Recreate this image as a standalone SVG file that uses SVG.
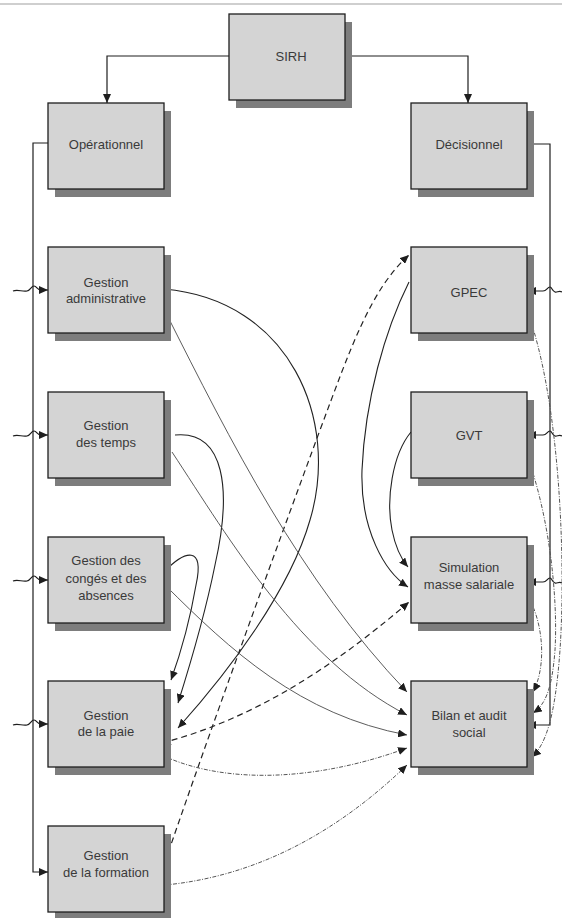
<svg xmlns="http://www.w3.org/2000/svg" width="562" height="918" viewBox="0 0 562 918">
<style>
.shadow{fill:#7d7d7d}
.box{fill:#d4d4d4;stroke:#1e1e1e;stroke-width:1.3}
.lbl{font-family:"Liberation Sans",Arial,sans-serif;font-size:13px;fill:#3a3a3a;text-anchor:middle}
.c{fill:none;stroke:#1e1e1e;stroke-width:1.2}
.s{fill:none;stroke:#222;stroke-width:1.1}
.g{fill:none;stroke:#4a4a4a;stroke-width:0.9}
.d{fill:none;stroke:#222;stroke-width:1.2;stroke-dasharray:6 4}
.dd{fill:none;stroke:#555;stroke-width:1;stroke-dasharray:4 1.5 1 1.5}
</style>
<defs>
<marker id="a" markerUnits="userSpaceOnUse" markerWidth="10" markerHeight="8" refX="9" refY="4" orient="auto-start-reverse">
<path d="M0,0 L9,4 L0,8 Z" fill="#1e1e1e"/>
</marker>
</defs>
<rect x="0" y="0" width="562" height="918" fill="#ffffff"/>
<line x1="0" y1="4" x2="562" y2="4" stroke="#cfcfcf" stroke-width="2"/>

<g id="connectors">
<path class="c" d="M229,56 L107,56 L107,103" marker-end="url(#a)"/>
<path class="c" d="M345,56 L468,56 L468,103" marker-end="url(#a)"/>
<path class="c" d="M48,143 L33,143 L33,872 L48,872" marker-end="url(#a)"/>
<path class="c" d="M527,144 L550,144 L550,725 L527,725" marker-end="url(#a)"/>
<path class="c" d="M13,291 C18,289 22,292 27,291 C31,290 31,286 34,286 C37,286 37,290 41,290 L48,290" marker-end="url(#a)"/>
<path class="c" d="M13,436 C18,434 22,437 27,436 C31,435 31,431 34,431 C37,431 37,435 41,435 L48,435" marker-end="url(#a)"/>
<path class="c" d="M13,581 C18,579 22,582 27,581 C31,580 31,576 34,576 C37,576 37,580 41,580 L48,580" marker-end="url(#a)"/>
<path class="c" d="M13,725 C18,723 22,726 27,725 C31,724 31,720 34,720 C37,720 37,724 41,724 L48,724" marker-end="url(#a)"/>
<path class="c" d="M562,292 C559,290 557,293 555,292 C552,291 552,287 550,287 C547,287 547,291 543,291 L527,291" marker-end="url(#a)"/>
<path class="c" d="M562,436 C559,434 557,437 555,436 C552,435 552,431 550,431 C547,431 547,435 543,435 L527,435" marker-end="url(#a)"/>
<path class="c" d="M562,583 C559,581 557,584 555,583 C552,582 552,578 550,578 C547,578 547,582 543,582 L527,582" marker-end="url(#a)"/>

<path class="s" d="M164,289 C290,300 340,420 310,520 C290,590 230,670 178,728" marker-end="url(#a)"/>
<path class="s" d="M175,435 C225,430 232,490 215,565 C205,615 190,665 178,703" marker-end="url(#a)"/>
<path class="s" d="M164,572 C185,550 205,545 196,585 C190,620 180,655 171,680" marker-end="url(#a)"/>
<path class="s" d="M409,282 C385,330 365,400 362,470 C360,530 385,572 408,587" marker-end="url(#a)"/>
<path class="s" d="M411,432 C392,455 386,500 392,530 C396,550 402,560 408,567" marker-end="url(#a)"/>

<path class="d" d="M165,862 C200,760 250,620 320,430 C350,350 370,290 409,255" marker-start="url(#a)" marker-end="url(#a)"/>
<path class="d" d="M162,743 C250,720 330,670 409,602" marker-start="url(#a)" marker-end="url(#a)"/>

<path class="g" d="M166,313 C230,440 300,580 407,692" marker-end="url(#a)"/>
<path class="g" d="M172,452 C230,540 300,660 407,715" marker-end="url(#a)"/>
<path class="g" d="M165,585 C230,650 300,715 407,735" marker-end="url(#a)"/>
<path class="dd" d="M166,757 C230,785 320,780 407,748" marker-end="url(#a)"/>
<path class="dd" d="M165,885 C270,875 350,820 407,765" marker-end="url(#a)"/>

<path class="dd" d="M527,310 C560,400 566,560 560,650 C555,720 545,745 532,757" marker-end="url(#a)"/>
<path class="dd" d="M528,458 C550,520 558,600 555,650 C552,690 545,705 533,713" marker-end="url(#a)"/>
<path class="dd" d="M530,600 C545,630 545,670 533,692" marker-end="url(#a)"/>
</g>

<g id="sirh"><rect class="shadow" x="236" y="22" width="116" height="86"/><rect class="box" x="229" y="14" width="116" height="86"/><text class="lbl" x="291" y="61">SIRH</text></g>
<g id="operationnel"><rect class="shadow" x="55" y="111" width="116" height="86"/><rect class="box" x="48" y="103" width="116" height="86"/><text class="lbl" x="106" y="149">Opérationnel</text></g>
<g id="decisionnel"><rect class="shadow" x="418" y="111" width="116" height="86"/><rect class="box" x="411" y="103" width="116" height="86"/><text class="lbl" x="469" y="149">Décisionnel</text></g>

<g id="gestion-administrative"><rect class="shadow" x="55" y="255" width="116" height="86"/><rect class="box" x="48" y="247" width="116" height="86"/><text class="lbl" x="106" y="287">Gestion</text><text class="lbl" x="106" y="303">administrative</text></g>
<g id="gestion-temps"><rect class="shadow" x="55" y="400" width="116" height="86"/><rect class="box" x="48" y="392" width="116" height="86"/><text class="lbl" x="106" y="430">Gestion</text><text class="lbl" x="106" y="447">des temps</text></g>
<g id="gestion-conges"><rect class="shadow" x="55" y="545" width="116" height="86"/><rect class="box" x="48" y="537" width="116" height="86"/><text class="lbl" x="106" y="565">Gestion des</text><text class="lbl" x="106" y="583">congés et des</text><text class="lbl" x="106" y="600">absences</text></g>
<g id="gestion-paie"><rect class="shadow" x="55" y="689" width="116" height="86"/><rect class="box" x="48" y="681" width="116" height="86"/><text class="lbl" x="106" y="720">Gestion</text><text class="lbl" x="106" y="736">de la paie</text></g>
<g id="gestion-formation"><rect class="shadow" x="55" y="834" width="116" height="86"/><rect class="box" x="48" y="826" width="116" height="86"/><text class="lbl" x="106" y="860">Gestion</text><text class="lbl" x="106" y="877">de la formation</text></g>

<g id="gpec"><rect class="shadow" x="418" y="255" width="116" height="86"/><rect class="box" x="411" y="247" width="116" height="86"/><text class="lbl" x="469" y="297">GPEC</text></g>
<g id="gvt"><rect class="shadow" x="418" y="400" width="116" height="86"/><rect class="box" x="411" y="392" width="116" height="86"/><text class="lbl" x="469" y="440">GVT</text></g>
<g id="simulation"><rect class="shadow" x="418" y="545" width="116" height="86"/><rect class="box" x="411" y="537" width="116" height="86"/><text class="lbl" x="469" y="572">Simulation</text><text class="lbl" x="469" y="589">masse salariale</text></g>
<g id="bilan"><rect class="shadow" x="418" y="689" width="116" height="86"/><rect class="box" x="411" y="681" width="116" height="86"/><text class="lbl" x="469" y="720">Bilan et audit</text><text class="lbl" x="469" y="737">social</text></g>
</svg>
